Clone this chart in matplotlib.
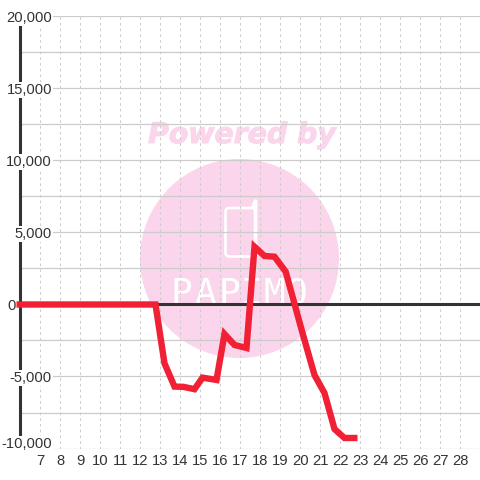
import matplotlib
matplotlib.use("Agg")
import matplotlib.pyplot as plt
import matplotlib.patheffects as pe
from matplotlib.patches import Circle, FancyBboxPatch
from matplotlib.transforms import Affine2D

days = [5.8, 12.75, 13.2, 13.7, 14.15, 14.7, 15.1, 15.8, 16.2, 16.7, 17.3, 17.7, 18.2, 18.7, 19.26, 20.1, 20.7, 21.2, 21.7, 22.2, 22.85]
values = [0, 0, -4090, -5700, -5720, -5880, -5080, -5240, -2050, -2810, -3020, 4010, 3370, 3320, 2280, -1980, -4900, -6150, -8650, -9270, -9270]
xticks = list(range(7, 29))
yticks = [-10000, -5000, 0, 5000, 10000, 15000, 20000]
minor_y = [-7500, -2500, 2500, 7500, 12500, 17500]
mark = "PAPIMO"
mark_x = [181, 205, 229, 251, 274, 297]

plt.rcParams['font.family'] = ['Liberation Sans', 'DejaVu Sans']
fig = plt.figure(figsize=(4.8, 4.8), dpi=100)
W = 480.0
ax = fig.add_axes([20.5/W, 1-448.5/W, 459.5/W, 432/W])
ax.set_xlim(6, 6+459.5/20)
ax.set_ylim(-10000, 20000)
for s in ax.spines.values():
    s.set_visible(False)

px = Affine2D().scale(1, -1).translate(0, 480)  # pixels, y down
pink = '#fbd5ec'
fig.add_artist(Circle((239.5, 258.5), 99.5, transform=px, fc=pink, ec='none', zorder=-5))
fig.text(242, 135, 'Powered by', transform=px, family='DejaVu Sans', weight='bold', style='italic',
         fontsize=20.4, color=pink, ha='center', va='center', zorder=-5,
         path_effects=[pe.withStroke(linewidth=0.8, foreground=pink)])
fig.add_artist(FancyBboxPatch((225.5, 208), 30, 48.5, boxstyle='round,pad=0,rounding_size=4', transform=px,
                              fc='none', ec='white', lw=1.9, zorder=-4))
fig.add_artist(plt.Line2D([253, 255.5, 255.5], [207, 201, 250], transform=px, color='white', lw=2.6,
                          solid_capstyle='round', zorder=-4))
for letter, lx in zip(mark, mark_x):
    fig.text(lx, 304, letter, transform=px, family='DejaVu Sans Mono', fontsize=26, color='white',
             ha='center', va='baseline', zorder=-4)
ax.patch.set_alpha(0)

ax.hlines(minor_y + yticks, 6, 30, color='#cccccc', lw=0.9, zorder=1)
ax.vlines(xticks, -10000, 20000, color='#cccccc', lw=0.75, linestyles=(0, (2.5, 3)), zorder=1)
ax.plot([6, 30], [0, 0], color='#333333', lw=2.2, zorder=2, solid_capstyle='butt')
ax.plot([6, 6], [-10000, 20000], color='#333333', lw=2.2, zorder=2, solid_capstyle='butt', clip_on=False)
ax.plot(days, values, color='#f02035', lw=4.6, zorder=3, solid_joinstyle='miter', solid_capstyle='butt', clip_on=False)

ax.set_xticks(xticks)
ax.set_yticks(yticks)
ax.set_yticklabels([])
ax.tick_params(axis='both', length=0, labelsize=10.6, labelcolor='#333333')
ax.tick_params(axis='x', pad=4)
for v in yticks:
    dx = -4.5 if v == 0 else 31.5
    dy = 6.5 if v == -10000 else 0
    bbox = None if v == 0 else dict(fc='white', ec='none', pad=0.6)
    ax.annotate(f'{v:,}', (6, v), xytext=(dx, dy), textcoords='offset pixels', ha='right', va='center_baseline',
                fontsize=10.6, color='#333333', zorder=5, annotation_clip=False, bbox=bbox)
fig.savefig('out.png', dpi=100)
